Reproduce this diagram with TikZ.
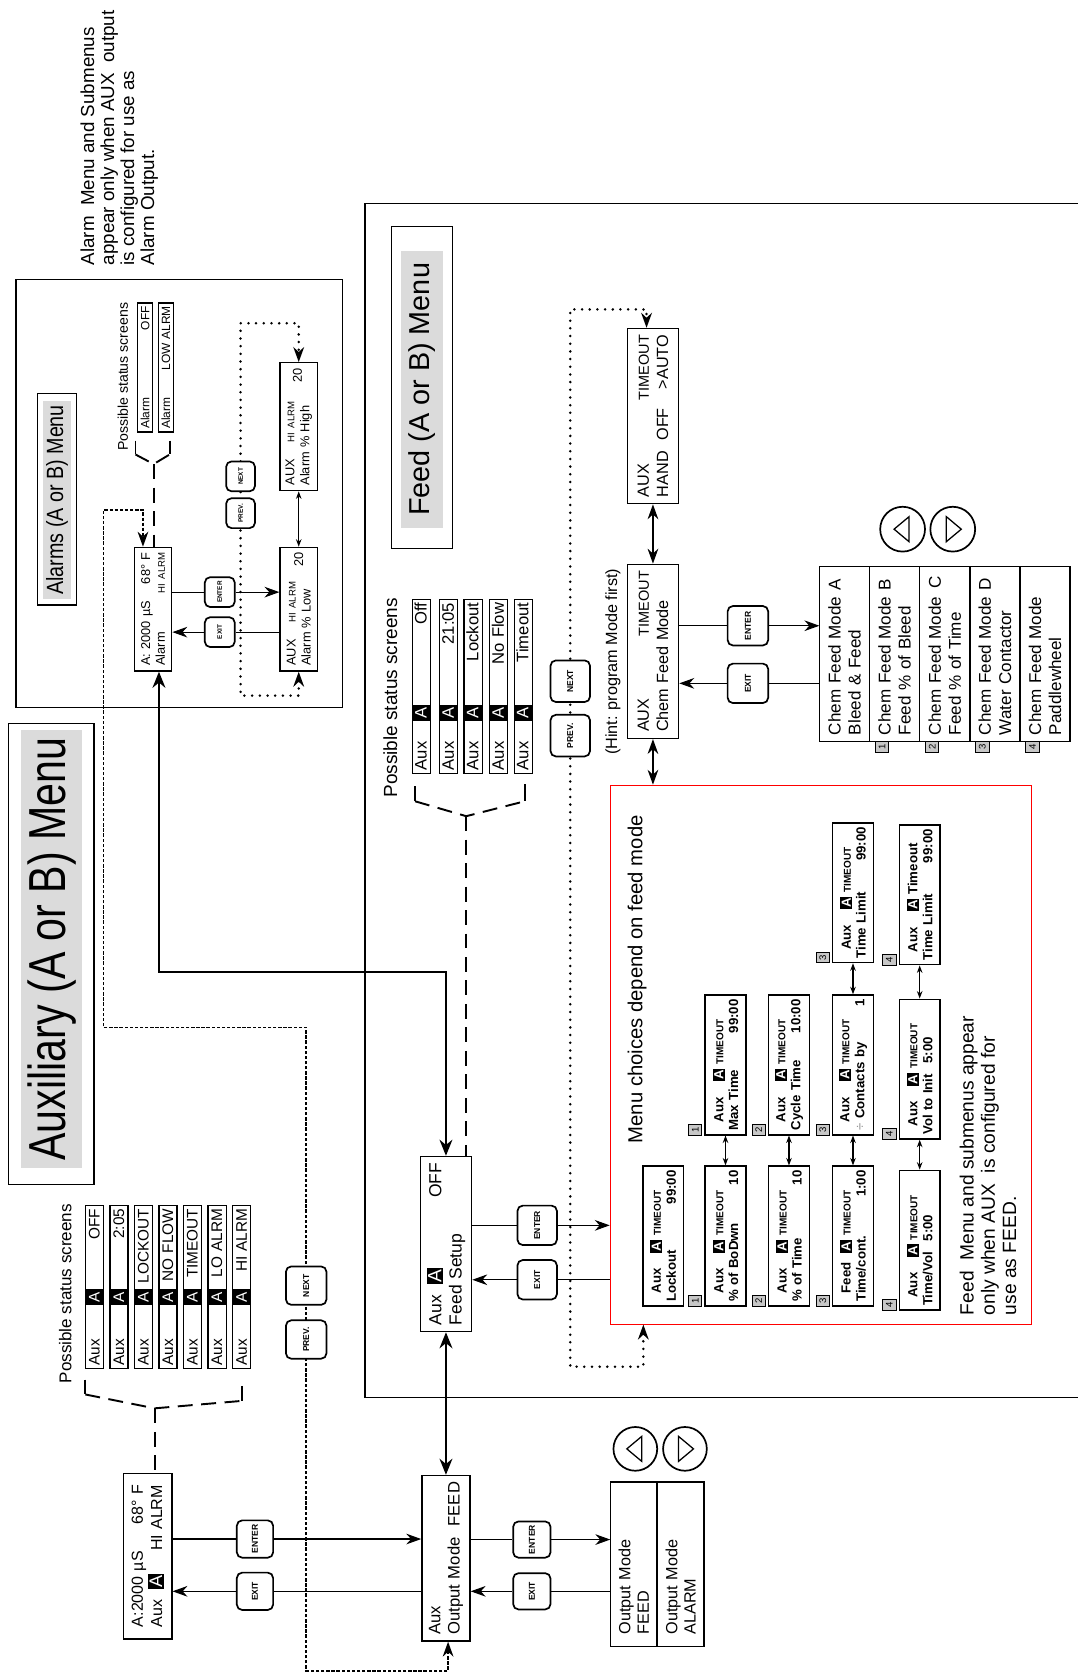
\documentclass[tikz,border=0pt]{standalone}
\usepackage{fontspec}
\setmainfont{Liberation Sans}
\usepackage{graphicx}
\usetikzlibrary{arrows.meta,positioning}

\newcommand{\fsz}[2]{\fontsize{#1}{#2}\selectfont}
\newcommand{\blk}[1]{{\setlength{\fboxsep}{0.7pt}\colorbox{black}{\textcolor{white}{#1}}}}
\newcommand{\tallA}{{\setlength{\fboxsep}{0pt}\colorbox{black}{\textcolor{white}{\rule[-1.7pt]{0pt}{8.2pt}\,A\,}}}}
\newcommand{\auxstat}[2]{\makebox[#1][l]{Aux}\tallA\hfill #2}
\newcommand{\chead}[2]{\hspace*{3.9pt}\makebox[19.1pt][l]{#1}\blk{A}\hspace{2pt}#2}
\newcommand{\tmo}{{\fsz{4.7}{5}TIMEOUT}}

\tikzset{
  outline/.style={line width=0.6pt},
  titlebox/.style={draw,line width=0.6pt,inner sep=0pt},
  titlefill/.style={fill=black!14,inner sep=0pt},
  screenbox/.style={draw,line width=0.7pt,inner xsep=3pt,inner ysep=0pt,align=left,font=\fsz{7.6}{9}},
  alscreen/.style={draw,line width=0.6pt,inner xsep=2.5pt,inner ysep=0pt,align=left,minimum height=17.5pt,font=\fsz{6}{7}},
  statbox/.style={draw,line width=0.6pt,inner xsep=1.5pt,inner ysep=0pt,minimum height=8.5pt,align=left},
  choicebox/.style={draw,line width=0.7pt,inner xsep=2pt,inner ysep=0pt,minimum height=19pt,text width=61.5pt,align=left,font=\fsz{6.2}{7}\bfseries},
  modebox/.style={draw,line width=0.7pt,outer sep=0pt,inner xsep=3pt,inner ysep=0pt,minimum height=23.5pt,text width=76pt,align=left,font=\fsz{8}{9.4}},
  keybtn/.style={draw,line width=0.8pt,rounded corners=2.5pt,fill=white,inner sep=0pt,minimum width=18pt,minimum height=18pt,font=\fsz{4}{4}\bfseries},
  numtag/.style={draw,fill=black!22,line width=0.4pt,inner sep=0pt,minimum width=5pt,minimum height=6.3pt,font=\fsz{4.5}{4.5}},
  wire/.style={line width=0.5pt},
  bigarrow/.style={line width=1.2pt,{Stealth[length=7.5pt,width=6pt]}-{Stealth[length=7.5pt,width=6pt]}},
  midarrow/.style={line width=0.7pt,{Stealth[length=7pt,width=5pt]}-{Stealth[length=7pt,width=5pt]}},
  tinyarrow/.style={line width=0.5pt,{Stealth[length=3.5pt,width=2.6pt]}-{Stealth[length=3.5pt,width=2.6pt]}},
  dashwire/.style={line width=0.9pt,dash pattern=on 7pt off 4pt},
  tickwire/.style={line width=0.9pt},
  dotwire/.style={line width=1.3pt,line cap=round,dash pattern=on 0pt off 3.6pt},
  finewire/.style={line width=0.8pt,dash pattern=on 1.6pt off 0.8pt},
  notetext/.style={inner sep=0pt,align=left,anchor=north west}
}

\begin{document}
\begin{tikzpicture}[x=0.5pt,y=0.5pt,rotate=90,transform shape,>={Stealth[length=7pt,width=5pt]}]
\useasboundingbox (0,0) rectangle (1569,1010);

% frames
\draw[outline] (906,689) rectangle (1307,995);
\draw[outline] (1378,0) -- (1378,668) -- (259,668) -- (259,0);
\node[draw=red,line width=0.5pt,inner sep=0pt,minimum width=252.5pt,minimum height=197.5pt] (choices) at (580.5,240.5) {};

% titles
\node[titlebox,minimum width=216pt,minimum height=40pt] (auxbox) at (675,962) {};
\node[titlefill,minimum width=205.5pt,minimum height=28.5pt,font=\fsz{24.4}{24.4}] (auxtitle) at (679.5,961.5) {\scalebox{0.79}[1]{Auxiliary (A or B) Menu}};
\node[titlebox,minimum width=99pt,minimum height=18.5pt] (alarmbox) at (1101,956.5) {};
\node[titlefill,minimum width=92.5pt,minimum height=13.5pt,font=\fsz{11}{11}] (alarmtitle) at (1100.5,956.5) {\scalebox{0.84}[1]{Alarms (A or B) Menu}};
\node[titlebox,minimum width=151pt,minimum height=28.5pt] (feedbox) at (1206,614.5) {};
\node[titlefill,minimum width=130pt,minimum height=19.5pt,font=\fsz{13.5}{13.5}] (feedtitle) at (1204,614.5) {Feed (A or B) Menu};

% notes
\node[notetext,font=\fsz{8.8}{9.4}] (alarmnote) at (1320,935) {Alarm\ \ Menu and Submenus\\appear only when AUX\ \ output\\is configured for use as\\Alarm Output.};
\node[notetext,font=\fsz{9}{10}] (feednote) at (336,111) {Feed\ \ Menu and submenus appear\\only when AUX\ \ is configured for\\use as FEED.};
\node[notetext,font=\fsz{9.5}{10}] (choicehead) at (497,422) {Menu choices depend on feed mode};
\node[notetext,font=\fsz{7.6}{8}] (hint) at (861,443) {(Hint: program Mode first)};

% status screens
\node[notetext,font=\fsz{6.6}{7}] (alstattxt) at (1146,900) {Possible status screens};
\node[statbox,text width=57.5pt,minimum height=7pt,font=\fsz{5.6}{6}] (alst1) at (1224.5,874) {Alarm\hfill OFF\hspace*{4pt}};
\node[statbox,text width=57.5pt,minimum height=7pt,font=\fsz{5.6}{6}] (alst2) at (1224.5,854.5) {Alarm\hfill LOW ALRM\hspace*{4pt}};

\node[notetext,font=\fsz{8.9}{9}] (feedstattxt) at (821,651) {Possible status screens};
\node[statbox,text width=78.5pt,font=\fsz{7.8}{8}] (fst1) at (925.5,615) {\auxstat{23pt}{Off}};
\node[statbox,text width=78.5pt,font=\fsz{7.8}{8}] (fst2) at (925.5,589.5) {\auxstat{23pt}{21:05}};
\node[statbox,text width=78.5pt,font=\fsz{7.8}{8}] (fst3) at (925.5,566.5) {\auxstat{23pt}{Lockout}};
\node[statbox,text width=78.5pt,font=\fsz{7.8}{8}] (fst4) at (925.5,542.5) {\auxstat{23pt}{No Flow}};
\node[statbox,text width=78.5pt,font=\fsz{7.8}{8}] (fst5) at (925.5,519.5) {\auxstat{23pt}{Timeout}};

\node[notetext,font=\fsz{8}{8}] (auxstattxt) at (272,955) {Possible status screens};
\node[statbox,text width=73.5pt,font=\fsz{7.2}{7.2}] (auxst1) at (362.5,921.5) {\auxstat{28.5pt}{OFF}};
\node[statbox,text width=73.5pt,font=\fsz{7.2}{7.2}] (auxst2) at (362.5,898.5) {\auxstat{28.5pt}{2:05}};
\node[statbox,text width=73.5pt,font=\fsz{7.2}{7.2}] (auxst3) at (362.5,875.5) {\auxstat{28.5pt}{LOCKOUT}};
\node[statbox,text width=73.5pt,font=\fsz{7.2}{7.2}] (auxst4) at (362.5,852.5) {\auxstat{28.5pt}{NO FLOW}};
\node[statbox,text width=73.5pt,font=\fsz{7.2}{7.2}] (auxst5) at (362.5,829.5) {\auxstat{28.5pt}{TIMEOUT}};
\node[statbox,text width=73.5pt,font=\fsz{7.2}{7.2}] (auxst6) at (362.5,806.5) {\auxstat{28.5pt}{LO ALRM}};
\node[statbox,text width=73.5pt,font=\fsz{7.2}{7.2}] (auxst7) at (362.5,783.5) {\auxstat{28.5pt}{HI ALRM}};

% alarm screens
\node[alscreen,text width=53pt] (almain) at (998,866.5) {A: 2000 µS\hfill 68° F\\Alarm\hfill{\fsz{4.5}{5}HI ALRM}};
\node[alscreen,text width=53pt] (allow) at (998,730) {AUX\hspace{8pt}{\fsz{4.5}{5}HI ALRM}\\Alarm \% Low\hfill\raisebox{3.5pt}[0pt][0pt]{20}};
\node[alscreen,text width=55pt] (alhigh) at (1169,730) {AUX\hspace{8pt}{\fsz{4.5}{5}HI ALRM}\\Alarm \% High\hfill\raisebox{3.5pt}[0pt][0pt]{20}};

% main screens
\node[screenbox,text width=76pt,minimum height=24pt] (hand) at (1179,398) {AUX\hfill{\fsz{6.8}{7}TIMEOUT}\hspace*{5pt}\\HAND\hspace{5pt}OFF\hfill\textgreater AUTO\hspace*{3pt}};
\node[screenbox,text width=75.5pt,minimum height=24pt] (chemmode) at (958.5,398) {AUX\hfill{\fsz{6.8}{7}TIMEOUT}\hspace*{5pt}\\Chem Feed Mode};
\node[screenbox,text width=76pt,minimum height=24pt,font=\fsz{8.2}{9.4}] (feedsetup) at (403,592) {Aux\hspace{5pt}{\fsz{9}{9}\blk{A}}\hfill OFF\hspace*{1pt}\\Feed Setup};
\node[screenbox,text width=71.5pt,minimum height=22.5pt,font=\fsz{7.8}{9}] (outmode) at (108.5,592) {Aux\\Output Mode\hfill FEED};
\node[screenbox,inner xsep=5.5pt,text width=66.5pt,minimum height=22.5pt,font=\fsz{7.5}{9}] (auxmain) at (110.5,871.5) {A:2000 µS\hfill 68° F\\Aux\hspace{5pt}{\fsz{8.5}{8.5}\blk{A}}\hfill HI ALRM};

% feed modes
\node[modebox] (optA) at (956,218.5) {Chem Feed Mode A\\Bleed \& Feed};
\node[modebox,below=0pt of optA] (optB) {Chem Feed Mode B\\Feed \% of Bleed};
\node[modebox,below=0pt of optB] (optC) {Chem Feed Mode\hspace{4pt}C\\Feed \% of Time};
\node[modebox,below=0pt of optC] (optD) {Chem Feed Mode D\\Water Contactor};
\node[modebox,below=0pt of optD] (optE) {Chem Feed Mode\\Paddlewheel};
\node[numtag,anchor=north east] (tagB) at ([yshift=-2.5pt]optB.north west) {1};
\node[numtag,anchor=north east] (tagC) at ([yshift=-2.5pt]optC.north west) {2};
\node[numtag,anchor=north east] (tagD) at ([yshift=-2.5pt]optD.north west) {3};
\node[numtag,anchor=north east] (tagE) at ([yshift=-2.5pt]optE.north west) {4};

% output modes
\node[modebox,inner xsep=5.5pt,text width=66pt,minimum height=22pt,font=\fsz{7.6}{8.6}] (optfeed) at (103,416) {Output Mode\\FEED};
\node[modebox,inner xsep=5.5pt,text width=66pt,minimum height=22pt,font=\fsz{7.6}{8.6},below=0pt of optfeed] (optalarm) {Output Mode\\ALARM};

% menu choices
\node[choicebox] (lockout) at (410.5,388.5) {\chead{Aux}{\tmo}\\Lockout\hfill 99:00\hspace*{1pt}};
\node[choicebox] (r1a) at (410.5,330) {\chead{Aux}{\tmo}\\\% of BoDwn\hfill 10\hspace*{2pt}};
\node[choicebox,right=14pt of r1a] (r1b) {\chead{Aux}{\tmo}\\Max Time\hfill 99:00};
\node[choicebox] (r2a) at (410.5,270.5) {\chead{Aux}{\tmo}\\\% of Time\hfill 10\hspace*{2pt}};
\node[choicebox,right=14pt of r2a] (r2b) {\chead{Aux}{\tmo}\\Cycle Time\hfill 10:00};
\node[choicebox] (r3a) at (410.5,210.5) {\chead{Feed}{\tmo}\\Time/cont.\hfill 1:00};
\node[choicebox,right=14pt of r3a] (r3b) {\chead{Aux}{\tmo}\\{\color{black!45}\mdseries ÷} Contacts by\hfill 1\hspace*{1pt}};
\node[choicebox,right=14.5pt of r3b] (r3c) {\chead{Aux}{\tmo}\\Time Limit\hfill 99:00};
\node[choicebox] (r4a) at (406.5,148) {\chead{Aux}{\tmo}\\Time/Vol\hspace{5pt}5:00};
\node[choicebox,right=14pt of r4a] (r4b) {\chead{Aux}{\tmo}\\Vol to Init\hspace{5pt}5:00};
\node[choicebox,right=15.5pt of r4b] (r4c) {\chead{Aux}{Timeout}\\Time Limit\hfill 99:00};
\node[numtag,anchor=south west] (t1a) at ([yshift=1pt]r1a.north west) {1};
\node[numtag,anchor=south west] (t1b) at ([yshift=1pt]r1b.north west) {1};
\node[numtag,anchor=south west] (t2a) at ([yshift=1pt]r2a.north west) {2};
\node[numtag,anchor=south west] (t2b) at ([yshift=1pt]r2b.north west) {2};
\node[numtag,anchor=south west] (t3a) at ([yshift=1pt]r3a.north west) {3};
\node[numtag,anchor=south west] (t3b) at ([yshift=1pt]r3b.north west) {3};
\node[numtag,anchor=south west] (t3c) at ([yshift=1pt]r3c.north west) {3};
\node[numtag,anchor=south west] (t4a) at ([yshift=1pt]r4a.north west) {4};
\node[numtag,anchor=south west] (t4b) at ([yshift=1pt]r4b.north west) {4};
\node[numtag,anchor=south west] (t4c) at ([yshift=1pt]r4c.north west) {4};
\draw[tinyarrow] (r1a.east) -- (r1b.west);
\draw[tinyarrow] (r2a.east) -- (r2b.west);
\draw[tinyarrow] (r3a.east) -- (r3b.west);
\draw[tinyarrow] (r3b.east) -- (r3c.west);
\draw[tinyarrow] (r4a.east) -- (r4b.west);
\draw[tinyarrow] (r4b.east) -- (r4c.west);

% status brackets
\coordinate (albrJ) at (1134,866);
\draw[tickwire] (1156,883) -- (1143,883);
\draw[tickwire] (1156,851) -- (1143,851);
\draw[dashwire] (1143,883) -- (albrJ) -- (1143,851);
\draw[dashwire] (albrJ) -- (almain.east |- albrJ);
\coordinate (fbrJ) at (804,573);
\draw[tickwire] (832,621) -- (818,621);
\draw[tickwire] (834,518) -- (818,518);
\draw[dashwire] (818,621) -- (fbrJ) -- (818,518);
\draw[dashwire] (fbrJ) -- (feedsetup.east |- fbrJ);
\coordinate (auxbrJ) at (249,865);
\draw[tickwire] (276,930) -- (262,930);
\draw[tickwire] (270,783) -- (256,783);
\draw[dashwire] (262,930) -- (auxbrJ) -- (256,783);
\draw[dashwire] (auxbrJ) -- (auxmain.east |- auxbrJ);

% dotted loops
\coordinate (alloopS) at (917,784.5);
\coordinate (alloopN) at (1266,784.5);
\draw[dotwire,<->] (allow.west) -| (alloopS) -- (alloopN) |- (alhigh.east);
\coordinate (fl1) at (288,407);
\coordinate (fl2) at (288,475.5);
\coordinate (fl3) at (1279,475.5);
\coordinate (fl4) at (1279,404);
\draw[dotwire,<->] (choices.west |- fl1) -- (fl1) -- (fl2) -- (fl3) -- (fl4) -- (hand.east |- fl4);
\coordinate (fdB) at (3,590);
\coordinate (fdC) at (3,723);
\coordinate (fdD) at (606,723);
\coordinate (fdE) at (606,913);
\coordinate (fdF) at (1091,913);
\coordinate (fdG) at (1091,876);
\draw[finewire,<->] (outmode.west |- fdB) -- (fdB) -- (fdC) -- (fdD) -- (fdE) -- (fdF) -- (fdG) -- (almain.east |- fdG);

% thick links
\coordinate (thA) at (658,861);
\coordinate (thB) at (658,592);
\draw[bigarrow] (almain.west |- thA) -- (thA) -- (thB) -- (feedsetup.east |- thB);
\draw[bigarrow] (feedsetup.west) -- (outmode.east);
\draw[midarrow] (hand.west) -- (chemmode.east);
\draw[midarrow] (chemmode.west) -- (chemmode.west -| choices.east);
\draw[tinyarrow] (allow.east) -- (alhigh.west);

% keys
\node[keybtn,minimum width=14pt,minimum height=14pt,font=\fsz{3}{3}\bfseries] (alenter) at (1014,804) {ENTER};
\node[keybtn,minimum width=14pt,minimum height=14pt,font=\fsz{3}{3}\bfseries] (alexit) at (976.5,804) {EXIT};
\node[keybtn,minimum width=14pt,minimum height=13.5pt,font=\fsz{3}{3}\bfseries] (alprev) at (1088,784.5) {PREV.};
\node[keybtn,minimum width=14pt,minimum height=13.5pt,font=\fsz{3}{3}\bfseries] (alnext) at (1122.5,784.5) {NEXT};
\node[keybtn,minimum width=19.5pt,minimum height=18.5pt] (feedprev) at (879.5,475.5) {PREV.};
\node[keybtn,minimum width=19.5pt,minimum height=18.5pt] (feednext) at (930.5,475.5) {NEXT};
\node[keybtn,minimum width=18.5pt,minimum height=19pt] (chementer) at (982.5,309) {ENTER};
\node[keybtn,minimum width=18.5pt,minimum height=19pt] (chemexit) at (928.5,309) {EXIT};
\node[keybtn,minimum width=18.5pt,minimum height=18.5pt] (fsenter) at (420.5,506.5) {ENTER};
\node[keybtn,minimum width=18.5pt,minimum height=18.5pt] (fsexit) at (369.5,506.5) {EXIT};
\node[keybtn,minimum width=17pt,minimum height=17.5pt] (outenter) at (126,511.5) {ENTER};
\node[keybtn,minimum width=17pt,minimum height=17.5pt] (outexit) at (77.5,511.5) {EXIT};
\node[keybtn,minimum width=17.5pt,minimum height=17pt] (auxenter) at (126.5,771) {ENTER};
\node[keybtn,minimum width=17.5pt,minimum height=17pt] (auxexit) at (77.5,771) {EXIT};
\node[keybtn,minimum width=18pt,minimum height=19pt] (auxprev) at (313.5,723) {PREV.};
\node[keybtn,minimum width=18pt,minimum height=19pt] (auxnext) at (364,723) {NEXT};

% enter / exit wires
\draw[wire] (almain.south -| alenter) -- (alenter.north);
\draw[wire,->] (alenter.south) -- (alenter |- allow.north);
\draw[wire] (allow.north -| alexit) -- (alexit.south);
\draw[wire,->] (alexit.north) -- (alexit |- almain.south);

\draw[wire] (auxmain.south -| auxenter) -- (auxenter.north);
\draw[wire,->] (auxenter.south) -- (auxenter |- outmode.north);
\draw[wire] (outmode.north -| auxexit) -- (auxexit.south);
\draw[wire,->] (auxexit.north) -- (auxexit |- auxmain.south);

\draw[wire] (outmode.south -| outenter) -- (outenter.north);
\draw[wire,->] (outenter.south) -- (outenter |- optfeed.north);
\draw[wire] (optfeed.north -| outexit) -- (outexit.south);
\draw[wire,->] (outexit.north) -- (outexit |- outmode.south);

\draw[wire] (feedsetup.south -| fsenter) -- (fsenter.north);
\draw[wire,->] (fsenter.south) -- (fsenter |- choices.north);
\draw[wire] (choices.north -| fsexit) -- (fsexit.south);
\draw[wire,->] (fsexit.north) -- (fsexit |- feedsetup.south);

\draw[wire] (chemmode.south -| chementer) -- (chementer.north);
\draw[wire,->] (chementer.south) -- (chementer |- optA.north);
\draw[wire] (optA.north -| chemexit) -- (chemexit.south);
\draw[wire,->] (chemexit.north) -- (chemexit |- chemmode.south);

% up / down keys
\draw[line width=0.8pt] (1073,164) circle[radius=10.5pt];
\draw[line width=0.8pt] (1073,117) circle[radius=10.5pt];
\draw[line width=0.6pt] (1073,172) -- (1061.3,158) -- (1084.7,158) -- cycle;
\draw[line width=0.6pt] (1073,109) -- (1061.3,123) -- (1084.7,123) -- cycle;
\draw[line width=0.8pt] (211,414.5) circle[radius=10.25pt];
\draw[line width=0.8pt] (211,368) circle[radius=10.25pt];
\draw[line width=0.6pt] (211,422.5) -- (199.3,408.5) -- (222.7,408.5) -- cycle;
\draw[line width=0.6pt] (211,360) -- (199.3,374) -- (222.7,374) -- cycle;
\end{tikzpicture}
\end{document}
